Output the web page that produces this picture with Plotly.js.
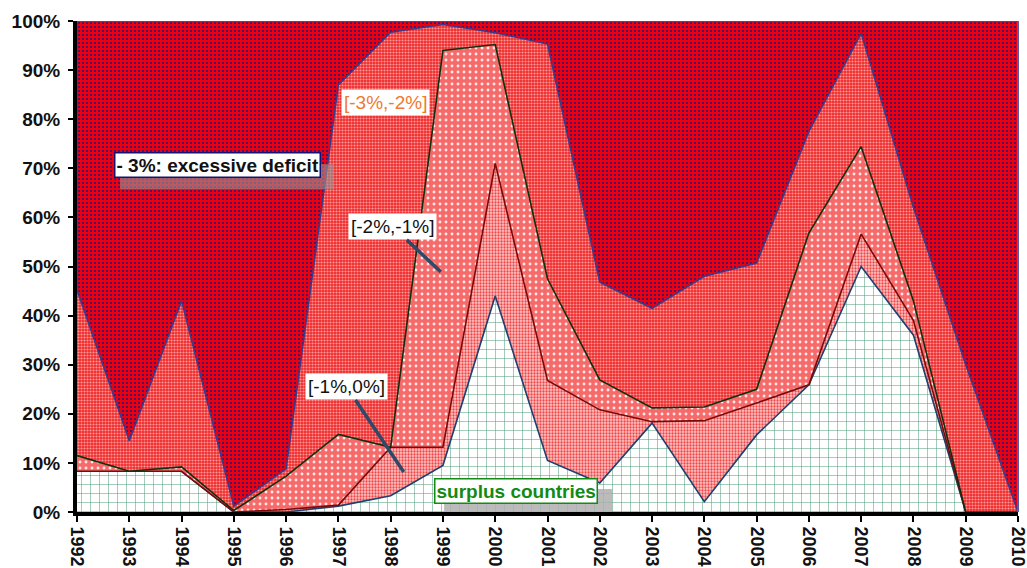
<!DOCTYPE html>
<html>
<head>
<meta charset="utf-8">
<script src="https://cdn.plot.ly/plotly-3.0.1.min.js"></script>
<style>html,body{margin:0;padding:0;background:#fff;}#chart{width:1027px;height:568px;}</style>
</head>
<body>
<div id="chart"></div>
<script>
const years = [1992,1993,1994,1995,1996,1997,1998,1999,2000,2001,2002,2003,2004,2005,2006,2007,2008,2009,2010];
// shares of countries (%) per fiscal balance band
const surplus   = [8.3, 8.3, 8.3, 0,   0,   1.2, 3.3, 9.5, 44,  10.5, 5.9, 18.1, 2.1, 15.7, 25.9, 50,  36, 0,  0];
const band1to0  = [0,   0,   0,   0,   0.5, 0.2, 9.9, 3.7, 27,  16.3, 14.9, 0.3, 16.5, 6.5, 0,    6.6, 3,  0,  0];
const band2to1  = [3.2, 0,   0.9, 0.3, 6.8, 14.4, 0,  80.8, 24.2, 20.7, 6.1, 2.8, 2.8, 2.8, 30.9, 17.8, 4, 0,  0];
const band3to2  = [33.7, 6.2, 33.8, 0.9, 1.5, 71.2, 84.5, 5.3, 2.4, 47.8, 19.9, 20.3, 26.6, 25.7, 20.7, 23.1, 19, 30, 0];
const excessive = [54.8, 85.5, 57, 98.8, 91.2, 13, 2.5, 0.7, 2.4, 4.7, 53.2, 58.5, 52, 49.3, 22.5, 2.5, 38, 70, 100];
const yTickVals = [0,10,20,30,40,50,60,70,80,90,100];
const labels = {
  exc: "- 3%: excessive deficit",
  b32: "[-3%,-2%]",
  b21: "[-2%,-1%]",
  b10: "[-1%,0%]",
  sur: "surplus countries"
};

const FONT = "Liberation Sans, Arial, Helvetica, sans-serif";

function tr(name, y, lineColor, lw, pat) {
  return {
    x: years, y: y, name: name, type: 'scatter', mode: 'lines',
    stackgroup: 'one', line: {color: lineColor, width: lw},
    fillcolor: pat.bgcolor, fillpattern: pat, hoverinfo: 'skip'
  };
}

const data = [
  tr(labels.sur, surplus, '#1f3f6e', 1.6, {shape: '+', bgcolor: '#ffffff', fgcolor: '#5a9f80', size: 9, solidity: 0.12}),
  tr(labels.b10, band1to0, '#7a0a0a', 1.6, {shape: '.', bgcolor: '#ffc4c4', fgcolor: '#f04848', size: 3, solidity: 0.45}),
  tr(labels.b21, band2to1, '#0f3010', 1.6, {shape: '.', bgcolor: '#f66a6a', fgcolor: '#ffe8e8', size: 6, solidity: 0.18}),
  tr(labels.b32, band3to2, '#3a3a8a', 1.6, {shape: '.', bgcolor: '#ee2c2c', fgcolor: '#ff9a9a', size: 3, solidity: 0.4}),
  tr(labels.exc, excessive, '#4a4aa0', 2, {shape: '.', bgcolor: '#ec0010', fgcolor: '#1a1a80', size: 4, solidity: 0.2})
];

function shadow(x, y, w, h, dx, dy, color) {
  return {type: 'rect', xref: 'x', yref: 'y', xsizemode: 'pixel', ysizemode: 'pixel',
          xanchor: x, yanchor: y, x0: -w / 2 + dx, x1: w / 2 + dx, y0: -h / 2 - dy, y1: h / 2 - dy,
          fillcolor: color, line: {width: 0}, layer: 'above'};
}

const layout = {
  width: 1027, height: 568,
  margin: {l: 77, r: 9, t: 21, b: 56},
  paper_bgcolor: '#ffffff', plot_bgcolor: '#ffffff',
  showlegend: false,
  font: {family: FONT, color: '#000'},
  xaxis: {
    range: [1992, 2010.0001], tickvals: years, ticktext: years.map(String),
    tickangle: 90, tickfont: {family: FONT, size: 18, weight: 'bold', color: '#111'},
    ticks: 'outside', ticklen: 6, tickwidth: 2, tickcolor: '#000', ticklabelstandoff: 1,
    ticklabeloverflow: 'allow',
    showgrid: false, zeroline: false, showline: true, linecolor: '#000', linewidth: 4
  },
  yaxis: {
    range: [0, 100], tickvals: yTickVals, ticktext: yTickVals.map(v => v + '%'),
    tickfont: {family: FONT, size: 19, weight: 'bold', color: '#111'},
    ticks: 'outside', ticklen: 5, tickwidth: 2, tickcolor: '#000', ticklabelstandoff: 4,
    showgrid: false, zeroline: false, showline: true, linecolor: '#000', linewidth: 4
  },
  shapes: [
    {type: 'line', xref: 'paper', yref: 'paper', x0: 1, x1: 1, y0: 0, y1: 1, line: {color: '#5a5aaa', width: 2}},
    shadow(1994.68, 70.7, 214, 25, 10, 12, 'rgba(150,150,150,0.6)'),
    shadow(2000.4, 4.3, 168, 28, 12, 12, 'rgba(175,175,175,0.85)')
  ],
  annotations: [
    {x: 1994.68, y: 70.7, xref: 'x', yref: 'y', text: labels.exc, showarrow: false,
     font: {family: FONT, size: 19, weight: 'bold', color: '#111'}, bgcolor: '#ffffff', bordercolor: '#14146e', borderwidth: 1.5, borderpad: 1},
    {x: 1997.91, y: 83.5, xref: 'x', yref: 'y', text: labels.b32, showarrow: false,
     font: {family: FONT, size: 19, color: '#f07a30'}, bgcolor: '#ffffff', borderpad: 2},
    {x: 1998.96, y: 48.9, xref: 'x', yref: 'y', text: labels.b21, showarrow: true, arrowhead: 0, arrowwidth: 3.5, arrowcolor: '#2f4a68',
     ax: -48, ay: -45, font: {family: FONT, size: 19, color: '#111'}, bgcolor: '#ffffff', borderpad: 2},
    {x: 1998.25, y: 8.15, xref: 'x', yref: 'y', text: labels.b10, showarrow: true, arrowhead: 0, arrowwidth: 3.5, arrowcolor: '#2f4a68',
     ax: -57, ay: -85, font: {family: FONT, size: 19, color: '#111'}, bgcolor: '#ffffff', borderpad: 2},
    {x: 2000.4, y: 4.3, xref: 'x', yref: 'y', text: labels.sur, showarrow: false,
     font: {family: FONT, size: 19, weight: 'bold', color: '#138a13'}, bgcolor: '#ffffff', bordercolor: '#138a13', borderwidth: 1.5, borderpad: 1}
  ]
};

Plotly.newPlot('chart', data, layout, {staticPlot: true, displayModeBar: false});
</script>
</body>
</html>
